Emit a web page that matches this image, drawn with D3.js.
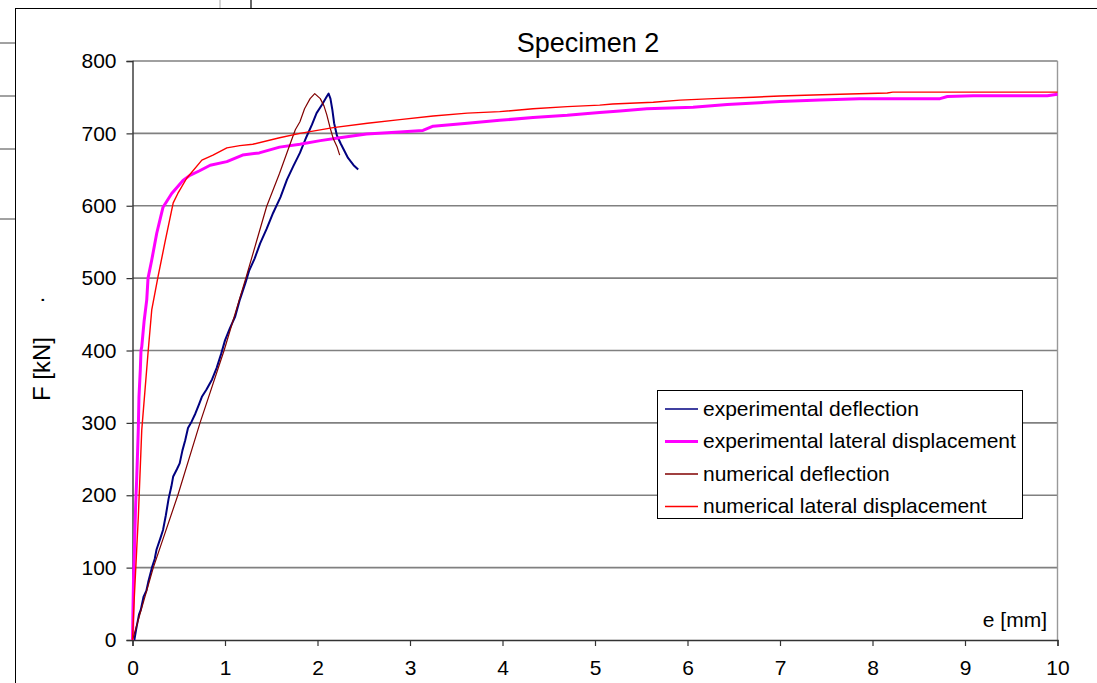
<!DOCTYPE html>
<html>
<head>
<meta charset="utf-8">
<script src="https://cdn.jsdelivr.net/npm/d3@7/dist/d3.min.js"></script>
<style>
  html, body { margin: 0; padding: 0; background: #fff; }
  svg { display: block; font-family: "Liberation Sans", Arial, sans-serif; }
</style>
</head>
<body>
<svg id="chart" width="1097" height="683"></svg>
<script>
// Load–displacement curves, specimen 2: e in mm, F in kN
const chartTitle = "Specimen 2";
const xTicks = [0, 1, 2, 3, 4, 5, 6, 7, 8, 9, 10];
const yTicks = [0, 100, 200, 300, 400, 500, 600, 700, 800];

const seriesNames = [
  "experimental deflection",
  "experimental lateral displacement",
  "numerical deflection",
  "numerical lateral displacement"
];

const expDeflection = [
  [0.02, 0], [0.04, 15], [0.07, 35], [0.09, 42], [0.12, 60], [0.15, 68], [0.17, 80],
  [0.21, 100], [0.24, 112], [0.26, 125], [0.30, 140], [0.33, 152], [0.36, 172],
  [0.39, 195], [0.42, 212], [0.44, 226], [0.48, 236], [0.51, 244], [0.54, 262],
  [0.57, 276], [0.60, 293], [0.64, 302], [0.68, 313], [0.72, 326], [0.75, 336],
  [0.80, 346], [0.86, 360], [0.91, 376], [0.96, 396], [1.00, 414], [1.05, 430],
  [1.11, 447], [1.16, 470], [1.22, 493], [1.26, 510], [1.32, 527], [1.38, 548],
  [1.45, 568], [1.52, 590], [1.60, 612], [1.67, 636], [1.74, 655], [1.81, 673],
  [1.88, 695], [1.94, 712], [1.99, 728], [2.05, 740], [2.10, 751], [2.12, 755],
  [2.14, 748], [2.16, 733], [2.18, 714], [2.21, 697], [2.25, 686], [2.29, 676],
  [2.33, 666], [2.39, 656], [2.44, 650]
];

const expLateral = [
  [0, 0], [0.005, 40], [0.011, 83], [0.02, 120], [0.027, 156], [0.035, 190],
  [0.045, 221], [0.055, 260], [0.063, 293], [0.07, 336], [0.085, 375], [0.092, 400],
  [0.10, 405], [0.125, 440], [0.154, 470], [0.168, 500], [0.208, 525], [0.262, 562],
  [0.33, 598], [0.424, 617], [0.546, 635], [0.62, 642], [0.72, 648], [0.84, 656],
  [1.02, 661], [1.19, 670], [1.37, 673], [1.59, 681], [1.81, 685], [2.03, 690],
  [2.24, 694], [2.53, 699], [2.89, 702], [3.14, 704], [3.25, 710], [3.62, 714],
  [3.97, 718], [4.33, 722], [4.70, 725], [5.05, 729], [5.27, 731], [5.56, 734],
  [6.06, 736], [6.43, 740], [7.00, 744], [7.43, 746], [7.86, 748], [8.73, 748],
  [8.81, 751], [9.09, 752], [9.89, 752], [10.0, 754]
];

const numDeflection = [
  [0, 0], [0.225, 100], [0.49, 200], [0.73, 300], [0.99, 400], [1.23, 502],
  [1.45, 599], [1.59, 645], [1.70, 684], [1.76, 705], [1.81, 716], [1.86, 734],
  [1.92, 748], [1.97, 755], [2.03, 748], [2.07, 738], [2.10, 726], [2.14, 706],
  [2.17, 693], [2.21, 682], [2.24, 670]
];

const numLateral = [
  [0, 0], [0.02, 60], [0.045, 124], [0.063, 170], [0.10, 290], [0.17, 400],
  [0.208, 456], [0.276, 502], [0.35, 549], [0.44, 604], [0.49, 617], [0.586, 638],
  [0.75, 663], [0.87, 670], [1.02, 680], [1.16, 683], [1.30, 685], [1.59, 694],
  [1.81, 700], [2.17, 708], [2.54, 714], [2.89, 719], [3.25, 724], [3.62, 728],
  [3.97, 730], [4.33, 734], [4.70, 737], [5.05, 739], [5.19, 740.5], [5.63, 743],
  [5.92, 746], [6.28, 748], [6.71, 750], [7.00, 751.6], [7.36, 753], [7.65, 754],
  [8.16, 755.7], [8.22, 757], [10.0, 757]
];

const seriesData = [expDeflection, expLateral, numDeflection, numLateral];
const seriesColors = ["#000080", "#ff00ff", "#800000", "#ff0000"];
const seriesWidths = [2, 3, 1.2, 1.4];
const legendWidths = [1.5, 3, 1.5, 1.5];

const svg = d3.select("#chart");

// spreadsheet cell borders around the embedded chart
const cellLines = svg.append("g");
[43, 96, 149, 219].forEach(y => {
  cellLines.append("line").attr("x1", 0).attr("x2", 15).attr("y1", y).attr("y2", y)
    .attr("stroke", "#444").attr("stroke-width", 1);
});
cellLines.append("line").attr("x1", 220).attr("x2", 220).attr("y1", 0).attr("y2", 8)
  .attr("stroke", "#aaa").attr("stroke-width", 1);
cellLines.append("line").attr("x1", 251).attr("x2", 251).attr("y1", 0).attr("y2", 8)
  .attr("stroke", "#000").attr("stroke-width", 1.2);

// chart area frame
svg.append("rect").attr("x", 15.5).attr("y", 8.5).attr("width", 1200).attr("height", 800)
  .attr("fill", "#fff").attr("stroke", "#000").attr("stroke-width", 1);

const x = d3.scaleLinear().domain([0, 10]).range([132.5, 1057.5]);
const y = d3.scaleLinear().domain([0, 800]).range([640, 61]);

// horizontal gridlines
svg.append("g").selectAll("line").data(yTicks.filter(v => v > 0)).join("line")
  .attr("x1", x(0)).attr("x2", x(10))
  .attr("y1", d => y(d)).attr("y2", d => y(d))
  .attr("stroke", "#808080").attr("stroke-width", 1.6);

// right border of the plot area
svg.append("line").attr("x1", x(10)).attr("x2", x(10)).attr("y1", y(800)).attr("y2", y(0))
  .attr("stroke", "#999").attr("stroke-width", 1.4);

// axes
const yAxis = d3.axisLeft(y).tickValues(yTicks).tickSize(6).tickPadding(10);
const gy = svg.append("g").attr("transform", `translate(${x(0)},0)`).call(yAxis);
const xAxis = d3.axisBottom(x).tickValues(xTicks).tickSize(6).tickPadding(14);
const gx = svg.append("g").attr("transform", `translate(0,${y(0)})`).call(xAxis);
[gx, gy].forEach(g => {
  g.select(".domain").attr("stroke", "#333").attr("stroke-width", 1.4);
  g.selectAll(".tick line").attr("stroke", "#333").attr("stroke-width", 1.2);
  g.selectAll(".tick text").attr("font-size", 21).attr("fill", "#000")
    .attr("font-family", "Liberation Sans, Arial, sans-serif");
});

// curves
const line = d3.line().x(d => x(d[0])).y(d => y(d[1]));
seriesData.forEach((data, i) => {
  svg.append("path").datum(data)
    .attr("d", line)
    .attr("fill", "none")
    .attr("stroke", seriesColors[i])
    .attr("stroke-width", seriesWidths[i])
    .attr("stroke-linejoin", "round");
});

// title and axis labels
svg.append("text").attr("x", 588).attr("y", 52).attr("text-anchor", "middle")
  .attr("font-size", 27).text(chartTitle);
svg.append("text").attr("transform", "translate(50,369) rotate(-90)")
  .attr("text-anchor", "middle").attr("font-size", 24).text("F [kN]");
svg.append("text").attr("transform", "translate(44,300) rotate(-90)")
  .attr("text-anchor", "middle").attr("font-size", 22).text(".");
svg.append("text").attr("x", 1047).attr("y", 627).attr("text-anchor", "end")
  .attr("font-size", 21).text("e [mm]");

// legend
const legend = svg.append("g");
legend.append("rect").attr("x", 657.5).attr("y", 390.5).attr("width", 365).attr("height", 128)
  .attr("fill", "#fff").attr("stroke", "#000").attr("stroke-width", 1);
seriesNames.forEach((name, i) => {
  const ly = 409 + i * 32.5;
  legend.append("line").attr("x1", 665).attr("x2", 698).attr("y1", ly).attr("y2", ly)
    .attr("stroke", seriesColors[i]).attr("stroke-width", legendWidths[i]);
  legend.append("text").attr("x", 703).attr("y", ly + 6.5).attr("font-size", 21)
    .attr("fill", "#000").text(name);
});
</script>
</body>
</html>
